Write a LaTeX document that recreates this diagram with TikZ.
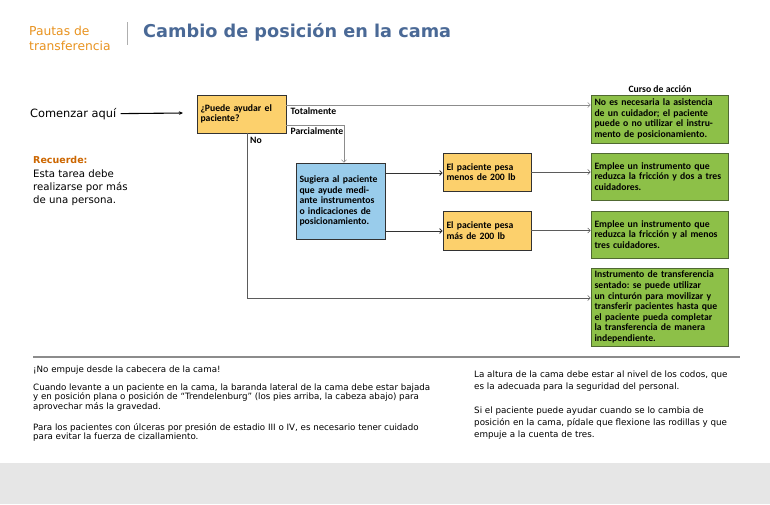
\documentclass[tikz,border=0pt]{standalone}
\usepackage{fontspec}
\setmainfont{DejaVu Sans}
\newfontfamily\boxfont{Carlito}
\usetikzlibrary{arrows.meta}
\frenchspacing
\definecolor{boxyellow}{RGB}{252,208,108}
\definecolor{boxblue}{RGB}{153,204,235}
\definecolor{boxgreen}{RGB}{141,192,72}
\definecolor{greenline}{RGB}{80,105,50}
\definecolor{darkline}{RGB}{50,50,50}
\definecolor{grayline}{RGB}{140,140,140}
\definecolor{headorange}{RGB}{232,146,30}
\definecolor{recorange}{RGB}{204,102,0}
\definecolor{titleblue}{RGB}{74,105,150}
\definecolor{bandgray}{RGB}{230,230,230}
\tikzset{
  box/.style={draw=darkline, line width=0.8pt, inner xsep=3.5pt, inner ysep=1pt,
    align=left, font=\boxfont\bfseries\frenchspacing\fontsize{9.7}{10.6}\selectfont, text=black},
  ybox/.style={box, fill=boxyellow},
  bbox/.style={box, fill=boxblue},
  gbox/.style={box, fill=boxgreen, draw=greenline},
  lbl/.style={font=\boxfont\bfseries\fontsize{9.7}{11}\selectfont, inner sep=0pt},
  conn/.style={line width=0.6pt, draw=grayline, -{Straight Barb[length=2.5pt,width=5pt]}},
  dconn/.style={line width=0.8pt, draw=darkline, -{Straight Barb[length=2.5pt,width=5pt]}},
  small/.style={font=\frenchspacing\fontsize{8.7}{9.5}\selectfont, anchor=base west, inner sep=0pt},
  rsmall/.style={font=\frenchspacing\fontsize{8.75}{12}\selectfont, anchor=base west, inner sep=0pt},
  side/.style={font=\fontsize{10.2}{13}\selectfont, anchor=base west, inner sep=0pt},
  head/.style={anchor=base west, inner sep=0pt, text=headorange, font=\fontsize{12.3}{14}\selectfont},
}
\begin{document}
\begin{tikzpicture}[x=1pt,y=-1pt]
\useasboundingbox (0,0) rectangle (770,504);
\fill[bandgray] (0,463) rectangle (770,504);

% header
\node[head] (h1) at (29,35) {Pautas de};
\node[head] (h2) at (29,50) {transferencia};
\draw[line width=0.6pt, draw=grayline!70] (127,22) -- (127,45);
\node[anchor=base west, inner sep=0pt, text=titleblue, font=\bfseries\fontsize{17.7}{20}\selectfont] (title) at (143,37) {Cambio de posición en la cama};

% start
\node[anchor=base west, inner sep=0pt, font=\fontsize{11.4}{12}\selectfont] (start) at (30,117) {Comenzar aquí};
\coordinate (s) at (183,113);
\draw[line width=1.1pt, -{Stealth[length=4pt,width=3.5pt]}] ([xshift=4pt]start.east) -- (s);

% reminder
\node[anchor=base west, inner sep=0pt, text=recorange, font=\bfseries\fontsize{9.5}{13}\selectfont] (r0) at (33,163) {Recuerde:};
\node[side] (r1) at (33,177) {Esta tarea debe};
\node[side] (r2) at (33,190) {realizarse por más};
\node[side] (r3) at (33,203) {de una persona.};

% boxes
\node[ybox, text width=82pt, minimum height=38pt] (q) at (241.5,114) {¿Puede ayudar el\\paciente?};
\node[bbox, text width=82pt, minimum height=76pt] (b) at (340.5,201) {Sugiera al paciente\\que ayude medi-\\ante instrumentos\\o indicaciones de\\posicionamiento.};
\node[ybox, text width=81pt, minimum height=38pt] (y2) at (487,172) {El paciente pesa\\menos de 200 lb};
\node[ybox, text width=81pt, minimum height=39pt] (y3) at (487,230.5) {El paciente pesa\\más de 200 lb};
\node[gbox, text width=130pt, minimum height=48pt] (g1) at (659.5,119) {No es necesaria la asistencia\\de un cuidador; el paciente\\puede o no utilizar el instru-\\mento de posicionamiento.};
\node[gbox, text width=130pt, minimum height=47pt] (g2) at (659.5,176.5) {Emplee un instrumento que\\reduzca la fricción y dos a tres\\cuidadores.};
\node[gbox, text width=130pt, minimum height=47pt] (g3) at (659.5,234.5) {Emplee un instrumento que\\reduzca la fricción y al menos\\tres cuidadores.};
\node[gbox, text width=130pt, minimum height=78pt] (g4) at (659.5,307) {Instrumento de transferencia\\sentado: se puede utilizar\\un cinturón para movilizar y\\transferir pacientes hasta que\\el paciente pueda completar\\la transferencia de manera\\independiente.};
\node[lbl, anchor=base] (curso) at (660,92) {Curso de acción};

% connectors
\coordinate (t1) at ([yshift=9pt]q.east);
\draw[conn] (t1) -- (t1 -| g1.west);
\node[lbl, anchor=base west] (tot) at ([xshift=4pt,yshift=-9pt]t1) {Totalmente};
\coordinate (p1) at ([yshift=-11pt]q.east);
\draw[conn] (p1) -| ([xshift=3.5pt]b.north);
\node[lbl, anchor=base west] (par) at ([xshift=4pt,yshift=-9pt]p1) {Parcialmente};
\coordinate (n1) at ([xshift=5.5pt]q.south);
\coordinate (n2) at ([yshift=9pt]g4.west);
\draw[conn, draw=darkline!80] (n1) |- (n2);
\node[lbl, anchor=base west] (no) at ([xshift=3pt,yshift=-10pt]n1) {No};
\coordinate (b1) at ([yshift=28pt]b.east);
\coordinate (b2) at ([yshift=-30pt]b.east);
\draw[dconn] (b1) -- (b1 -| y2.west);
\draw[dconn] (b2) -- (b2 -| y3.west);
\draw[conn, draw=darkline!80] (y2.east) -- (y2.east -| g2.west);
\draw[conn, draw=darkline!80] (y3.east) -- (y3.east -| g3.west);

% separator
\draw[line width=1.3pt, draw=grayline] (33,357) -- (740,357);

% bottom text left
\node[small] (l1) at (33,372) {¡No empuje desde la cabecera de la cama!};
\node[small] (l2) at (33,390) {Cuando levante a un paciente en la cama, la baranda lateral de la cama debe estar bajada};
\node[small] (l3) at (33,399.5) {y en posición plana o posición de “Trendelenburg” (los pies arriba, la cabeza abajo) para};
\node[small] (l4) at (33,409) {aprovechar más la gravedad.};
\node[small] (l5) at (33,430) {Para los pacientes con úlceras por presión de estadio III o IV, es necesario tener cuidado};
\node[small] (l6) at (33,439.5) {para evitar la fuerza de cizallamiento.};

% bottom text right
\node[rsmall] (m1) at (474,377) {La altura de la cama debe estar al nivel de los codos, que};
\node[rsmall] (m2) at (474,389) {es la adecuada para la seguridad del personal.};
\node[rsmall] (m3) at (474,413) {Si el paciente puede ayudar cuando se lo cambia de};
\node[rsmall] (m4) at (474,425) {posición en la cama, pídale que flexione las rodillas y que};
\node[rsmall] (m5) at (474,437) {empuje a la cuenta de tres.};
\end{tikzpicture}
\end{document}
